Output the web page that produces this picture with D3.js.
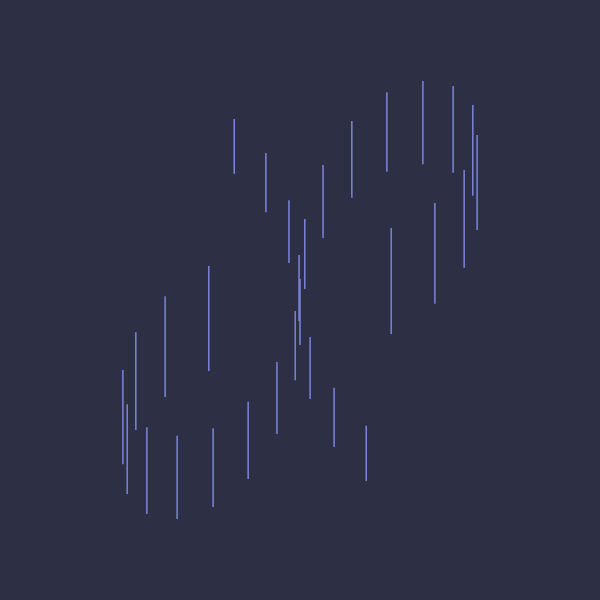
<!DOCTYPE html>
<html>
<head>
<meta charset="utf-8">
<script src="https://cdn.jsdelivr.net/npm/d3@7"></script>
<style>
  html, body { margin: 0; padding: 0; background: #2d3045; }
</style>
</head>
<body>
<div id="plot"></div>
<script>
// position along x, and the low / high end of each range
var xs = [13.1, 14.0, 15.8, 18.1, 21.9, 24.4, 31.0, 31.9, 36.3, 39.2,
          42.9, 45.2, 47.7, 49.0, 49.8, 50.0, 51.0, 52.1, 54.8, 57.1,
          60.8, 63.8, 68.1, 69.0, 75.6, 78.1, 81.9, 84.2, 86.0, 86.9];
var lows = [15.8, 9.6, 22.9, 5.4, 29.8, 4.4, 35.2, 6.9, 76.3, 12.7,
            68.3, 22.1, 57.7, 33.3, 45.6, 40.6, 52.3, 29.4, 62.9, 19.4,
            71.3, 12.3, 76.7, 42.9, 78.3, 49.2, 76.5, 56.7, 71.7, 64.6];
var highs = [35.4, 28.3, 43.3, 23.5, 50.8, 21.7, 57.1, 23.3, 87.7, 28.8,
             80.6, 37.1, 70.8, 47.7, 59.4, 54.4, 66.9, 42.3, 78.1, 31.7,
             87.3, 23.8, 93.3, 65.0, 95.6, 70.2, 94.6, 77.1, 90.6, 84.4];

function draw(){
	var width = 600, height = 600;
	var margin = {top: 60, right: 60, bottom: 60, left: 60};

	var svg = d3.select("#plot").append("svg")
		.attr("width", width)
		.attr("height", height);

	svg.append("rect")
		.attr("width", width)
		.attr("height", height)
		.attr("fill", "#2d3045");

	var x = d3.scaleLinear()
		.domain([0, 100])
		.range([margin.left, width - margin.right]);
	var y = d3.scaleLinear()
		.domain([0, 100])
		.range([height - margin.bottom, margin.top]);

	var data = xs.map(function(d, i) { return {x: d, lo: lows[i], hi: highs[i]}; });

	svg.append("g")
		.selectAll("line")
		.data(data)
		.enter().append("line")
		.attr("x1", function(d) { return x(d.x); })
		.attr("x2", function(d) { return x(d.x); })
		.attr("y1", function(d) { return y(d.lo); })
		.attr("y2", function(d) { return y(d.hi); })
		.attr("stroke", "#7c84dc")
		.attr("stroke-width", 1.5);
}
draw();
</script>
</body>
</html>
